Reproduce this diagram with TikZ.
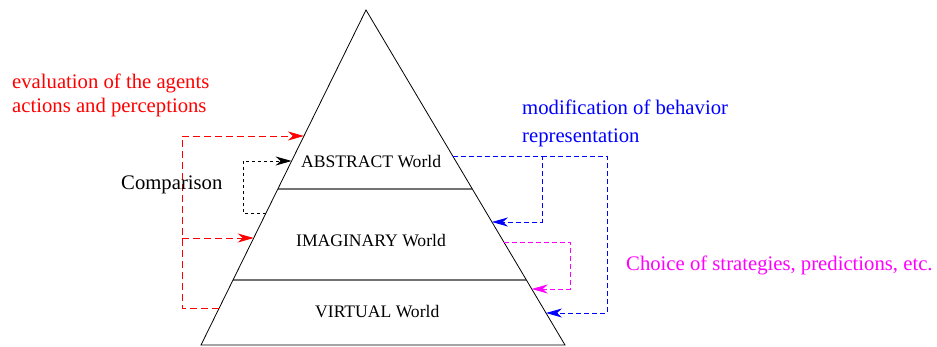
\documentclass[tikz,border=0pt]{standalone}
\usepackage{fontspec}
\setmainfont{Liberation Serif}
\usetikzlibrary{arrows.meta}
\definecolor{evalred}{RGB}{255,0,0}
\definecolor{modblue}{RGB}{0,0,255}
\definecolor{choicepink}{RGB}{255,0,255}
\begin{document}
\begin{tikzpicture}[x=1pt,y=-1pt]
\tikzstyle{every node}+=[inner sep=0pt]
\tikzstyle{world}=[anchor=base west,font=\fontsize{17.6}{20}\selectfont]
\tikzstyle{note}=[anchor=base west,align=left]
\tikzstyle{layer}=[draw=black!55,line width=1.3pt]
\tikzstyle{feedback}=[line width=0.8pt,-{Stealth[length=16pt,width=9pt,inset=5pt]}]
\useasboundingbox (0,0) rectangle (937,347);
% pyramid
\coordinate (apex) at (366,10);
\coordinate (bl) at (201,345);
\coordinate (br) at (565,345);
\draw [layer] (277.8,189) -- (472.3,189);
\draw [layer] (233,280) -- (526.4,280);
\draw [black,line width=0.8pt] (apex) -- (bl) -- (br) -- cycle;
\node [world] (abstract) at (301,168) {ABSTRACT World};
\node [world] (imaginary) at (296,247) {IMAGINARY World};
\node [world] (virtual) at (315,317) {VIRTUAL World};
% points on the edges
\coordinate (redfrom) at (219.2,308);
\coordinate (redtoA) at (303.9,136);
\coordinate (redtoB) at (253.7,238);
\coordinate (blkfrom) at (266,213);
\coordinate (blkto) at (291.6,161);
\coordinate (bluefrom) at (452.7,156);
\coordinate (bluetoA) at (491.9,222);
\coordinate (bluetoB) at (546,313);
\coordinate (magfrom) at (503.8,242);
\coordinate (magto) at (531.7,289);
\coordinate (bluesplit) at (542,156);
% feedback loops
\draw [feedback,evalred,dash pattern=on 7pt off 4pt] (redfrom) -- (182,308) -- (182,136) -- (redtoA);
\draw [feedback,evalred,dash pattern=on 7pt off 4pt] (182,238) -- (redtoB);
\draw [feedback,black,dash pattern=on 3pt off 3pt] (blkfrom) -- (243,213) -- (243,161) -- (blkto);
\draw [feedback,modblue,dash pattern=on 5pt off 3pt] (bluefrom) -- (bluesplit) -- (542,222) -- (bluetoA);
\draw [feedback,modblue,dash pattern=on 5pt off 3pt] (bluesplit) -- (607,156) -- (607,313) -- (bluetoB);
\draw [feedback,choicepink,dash pattern=on 5pt off 3pt] (magfrom) -- (570,242) -- (570,289) -- (magto);
% labels
\node [note,evalred,font=\fontsize{20.7}{23.5}\selectfont] (evaltext) at (12,112.5) {evaluation of the agents\\actions and perceptions};
\node [note,modblue,font=\fontsize{20.7}{27.7}\selectfont] (modtext) at (522,142.7) {modification of behavior\\representation};
\node [note,font=\fontsize{20.7}{24}\selectfont] (comptext) at (121,190) {Comparison};
\node [note,choicepink,font=\fontsize{20.7}{24}\selectfont] (choicetext) at (626,271) {Choice of strategies, predictions, etc.};
\end{tikzpicture}
\end{document}
